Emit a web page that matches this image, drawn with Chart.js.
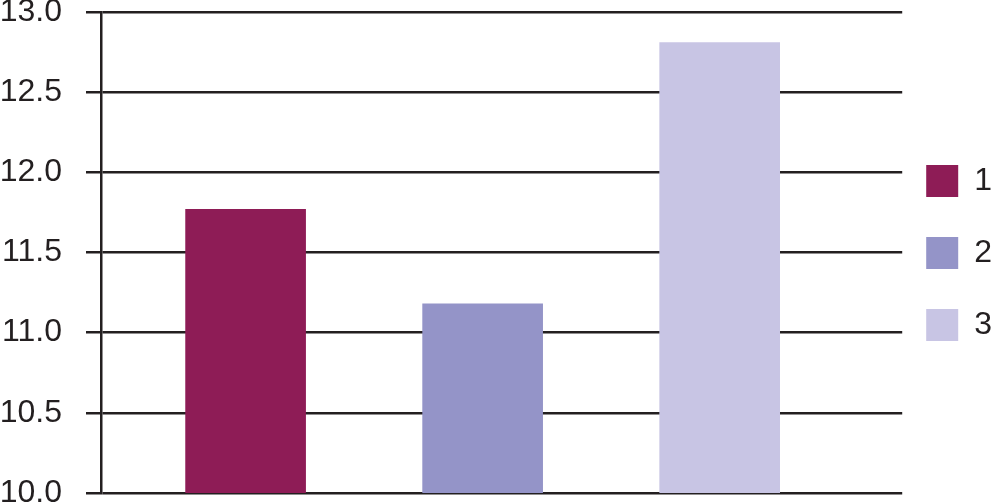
<!DOCTYPE html>
<html>
<head>
<meta charset="utf-8">
<script src="https://cdn.jsdelivr.net/npm/chart.js@4/dist/chart.umd.min.js"></script>
<style>
  html, body { margin: 0; padding: 0; background: #fff; }
  #wrap { width: 1002px; height: 502px; }
</style>
</head>
<body>
<div id="wrap"><canvas id="barchart"></canvas></div>
<script>
// data
var categories = ['1', '2', '3'];
var values = [11.77, 11.18, 12.81];
var colors = ['#8e1c56', '#9494c8', '#c8c5e4'];
var yTicks = [10.0, 10.5, 11.0, 11.5, 12.0, 12.5, 13.0];

var ink = '#231f20';
var font = "'Liberation Sans', Arial, Helvetica, sans-serif";

var datasets = categories.map(function (c, i) {
  return {
    label: c,
    data: [{ x: i + 1, y: values[i] }],
    backgroundColor: colors[i],
    borderWidth: 0,
    barThickness: 120,
    grouped: false
  };
});

new Chart(document.getElementById('barchart'), {
  type: 'bar',
  data: { datasets: datasets },
  options: {
    responsive: true,
    maintainAspectRatio: false,
    animation: false,
    layout: { padding: { top: 12, bottom: 9, left: 0, right: 0 } },
    scales: {
      x: {
        type: 'linear',
        display: false,
        offset: false,
        min: 0.39,
        max: 3.77
      },
      y: {
        min: yTicks[0],
        max: yTicks[yTicks.length - 1],
        afterBuildTicks: function (axis) {
          axis.ticks = yTicks.map(function (v) { return { value: v }; });
        },
        afterFit: function (axis) {
          axis.width = 101;
          // labels may run to the canvas edge, like the original
          axis.paddingTop = 0;
          axis.paddingBottom = 0;
        },
        border: { display: true, color: ink, width: 2.5 },
        grid: {
          color: ink,
          lineWidth: 2.5,
          drawTicks: true,
          tickLength: 15,
          tickColor: ink,
          tickWidth: 2.5
        },
        ticks: {
          padding: 24,
          color: ink,
          font: { family: font, size: 32 },
          callback: function (v) { return Number(v).toFixed(1); }
        }
      }
    },
    plugins: {
      tooltip: { enabled: false },
      legend: {
        display: true,
        position: 'right',
        title: { display: true, text: '', padding: 0, font: { size: 17, lineHeight: 1 } },
        labels: {
          boxWidth: 32,
          boxHeight: 32,
          padding: 24,
          color: ink,
          font: { family: font, size: 32, lineHeight: 1.5 },
          generateLabels: function (chart) {
            return Chart.defaults.plugins.legend.labels.generateLabels(chart).map(function (l) {
              l.text = [l.text];
              l.lineWidth = 0;
              return l;
            });
          }
        }
      }
    }
  }
});
</script>
</body>
</html>
